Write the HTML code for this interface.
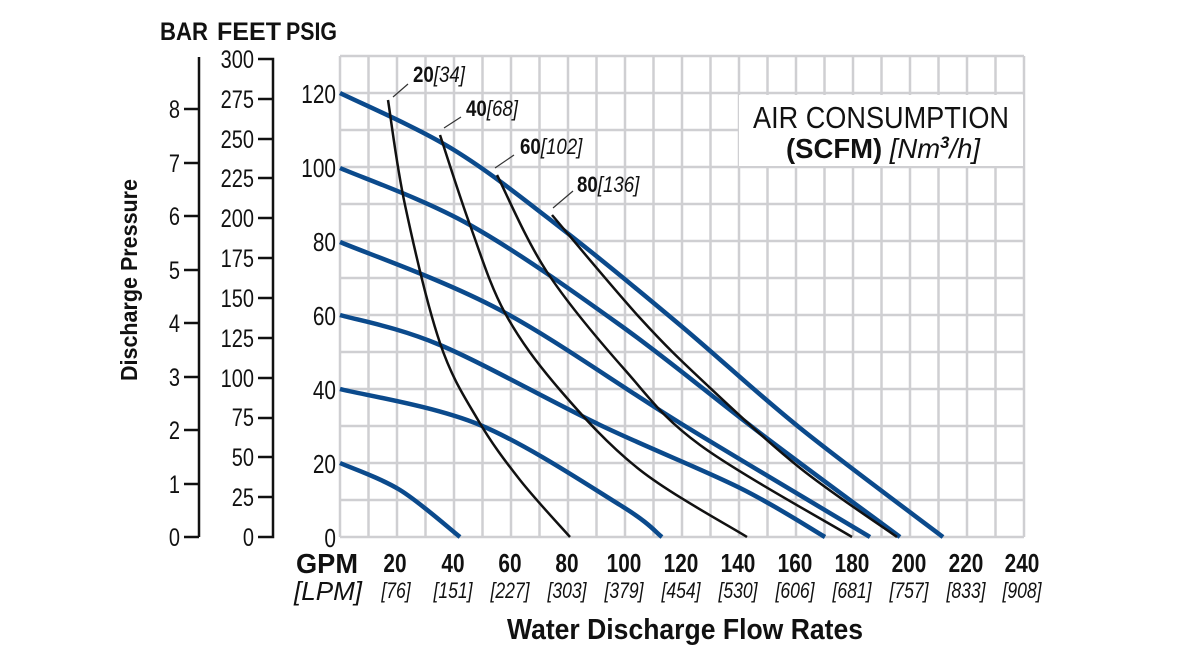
<!DOCTYPE html>
<html><head><meta charset="utf-8"><style>
html,body{margin:0;padding:0;background:#fff;}
svg{display:block;}
text{font-family:"Liberation Sans",sans-serif;fill:#111;}
</style></head><body>
<svg id="s" width="1200" height="660" viewBox="0 0 1200 660" xmlns="http://www.w3.org/2000/svg">
<g stroke="#cfcfd2" stroke-width="2.5">
<line x1="340" y1="56" x2="340" y2="537"/><line x1="368.5" y1="56" x2="368.5" y2="537"/><line x1="397" y1="56" x2="397" y2="537"/><line x1="425.5" y1="56" x2="425.5" y2="537"/><line x1="454" y1="56" x2="454" y2="537"/><line x1="482.5" y1="56" x2="482.5" y2="537"/><line x1="511" y1="56" x2="511" y2="537"/><line x1="539.5" y1="56" x2="539.5" y2="537"/><line x1="568" y1="56" x2="568" y2="537"/><line x1="596.5" y1="56" x2="596.5" y2="537"/><line x1="625" y1="56" x2="625" y2="537"/><line x1="653.5" y1="56" x2="653.5" y2="537"/><line x1="682" y1="56" x2="682" y2="537"/><line x1="710.5" y1="56" x2="710.5" y2="537"/><line x1="739" y1="56" x2="739" y2="537"/><line x1="767.5" y1="56" x2="767.5" y2="537"/><line x1="796" y1="56" x2="796" y2="537"/><line x1="824.5" y1="56" x2="824.5" y2="537"/><line x1="853" y1="56" x2="853" y2="537"/><line x1="881.5" y1="56" x2="881.5" y2="537"/><line x1="910" y1="56" x2="910" y2="537"/><line x1="938.5" y1="56" x2="938.5" y2="537"/><line x1="967" y1="56" x2="967" y2="537"/><line x1="995.5" y1="56" x2="995.5" y2="537"/><line x1="1024" y1="56" x2="1024" y2="537"/>
<line x1="340" y1="56" x2="1024" y2="56"/><line x1="340" y1="93" x2="1024" y2="93"/><line x1="340" y1="130" x2="1024" y2="130"/><line x1="340" y1="167" x2="1024" y2="167"/><line x1="340" y1="204" x2="1024" y2="204"/><line x1="340" y1="241" x2="1024" y2="241"/><line x1="340" y1="278" x2="1024" y2="278"/><line x1="340" y1="315" x2="1024" y2="315"/><line x1="340" y1="352" x2="1024" y2="352"/><line x1="340" y1="389" x2="1024" y2="389"/><line x1="340" y1="426" x2="1024" y2="426"/><line x1="340" y1="463" x2="1024" y2="463"/><line x1="340" y1="500" x2="1024" y2="500"/><line x1="340" y1="537" x2="1024" y2="537"/>
</g>
<rect x="739" y="95" width="284" height="71" fill="#fff"/>
<g id="blue" fill="none" stroke="#0b4a8c" stroke-width="4.5" stroke-linejoin="round">
<polyline data-p="340,93 454,150 566,232 680,325 800,428 943,537"/>
<polyline data-p="340,168 470,225 620,325 760,433 900,537"/>
<polyline data-p="340,242 500,310 680,423 870,537"/>
<polyline data-p="340,315 440,345 600,425 740,488 825,537"/>
<polyline data-p="340,389 480,425 620,505 662,537"/>
<polyline data-p="340,463 400,490 460,537"/>
</g>
<g id="black" fill="none" stroke="#111" stroke-width="2.5" stroke-linejoin="round">
<polyline data-p="388,100 405,205 440,343 478,420 520,480 570,537"/>
<polyline data-p="440,135 470,225 505,313 560,390 640,470 747,537"/>
<polyline data-p="497,175 547,272 625,370 700,445 852,537"/>
<polyline data-p="552,215 640,318 707,385 800,468 897,537"/>
</g>
<g stroke="#333" stroke-width="1.2">
<line x1="408" y1="84" x2="393" y2="97"/>
<line x1="461" y1="117" x2="444" y2="128"/>
<line x1="514" y1="155" x2="495" y2="168"/>
<line x1="573" y1="191" x2="553" y2="208"/>
</g>
<g font-size="22">
<text transform="translate(413,82) scale(0.85,1)"><tspan font-weight="bold">20</tspan><tspan font-style="italic">[34]</tspan></text>
<text transform="translate(466,116) scale(0.85,1)"><tspan font-weight="bold">40</tspan><tspan font-style="italic">[68]</tspan></text>
<text transform="translate(520,154) scale(0.85,1)"><tspan font-weight="bold">60</tspan><tspan font-style="italic">[102]</tspan></text>
<text transform="translate(577,192) scale(0.85,1)"><tspan font-weight="bold">80</tspan><tspan font-style="italic">[136]</tspan></text>
</g>
<text x="881" y="128" font-size="31" text-anchor="middle" textLength="256" lengthAdjust="spacingAndGlyphs">AIR CONSUMPTION</text>
<text x="786" y="158" font-size="28" textLength="194" lengthAdjust="spacingAndGlyphs"><tspan font-weight="bold">(SCFM)</tspan><tspan font-style="italic"> [Nm</tspan><tspan font-style="italic" font-weight="bold" font-size="17" dy="-10">3</tspan><tspan font-style="italic" dy="10">/h]</tspan></text>
<g font-size="26" text-anchor="end">
<text transform="translate(336,547) scale(0.8,1)">0</text><text transform="translate(336,473) scale(0.8,1)">20</text><text transform="translate(336,399) scale(0.8,1)">40</text><text transform="translate(336,325) scale(0.8,1)">60</text><text transform="translate(336,251) scale(0.8,1)">80</text><text transform="translate(336,177) scale(0.8,1)">100</text><text transform="translate(336,103) scale(0.8,1)">120</text>
</g>
<g stroke="#111" stroke-width="2.5" fill="none">
<polyline points="258,59 273,59 273,537 258,537"/>
<line x1="258" y1="99" x2="273" y2="99"/><line x1="258" y1="139" x2="273" y2="139"/><line x1="258" y1="178" x2="273" y2="178"/><line x1="258" y1="218" x2="273" y2="218"/><line x1="258" y1="258" x2="273" y2="258"/><line x1="258" y1="298" x2="273" y2="298"/><line x1="258" y1="338" x2="273" y2="338"/><line x1="258" y1="378" x2="273" y2="378"/><line x1="258" y1="418" x2="273" y2="418"/><line x1="258" y1="457" x2="273" y2="457"/><line x1="258" y1="497" x2="273" y2="497"/>
<line x1="199" y1="57" x2="199" y2="537"/>
<line x1="184" y1="537" x2="199" y2="537"/><line x1="184" y1="484" x2="199" y2="484"/><line x1="184" y1="430" x2="199" y2="430"/><line x1="184" y1="377" x2="199" y2="377"/><line x1="184" y1="323" x2="199" y2="323"/><line x1="184" y1="270" x2="199" y2="270"/><line x1="184" y1="216" x2="199" y2="216"/><line x1="184" y1="163" x2="199" y2="163"/><line x1="184" y1="109" x2="199" y2="109"/>
</g>
<g font-size="25" text-anchor="end">
<text transform="translate(254,546) scale(0.8,1)">0</text><text transform="translate(254,506) scale(0.8,1)">25</text><text transform="translate(254,466) scale(0.8,1)">50</text><text transform="translate(254,426) scale(0.8,1)">75</text><text transform="translate(254,387) scale(0.8,1)">100</text><text transform="translate(254,347) scale(0.8,1)">125</text><text transform="translate(254,307) scale(0.8,1)">150</text><text transform="translate(254,267) scale(0.8,1)">175</text><text transform="translate(254,227) scale(0.8,1)">200</text><text transform="translate(254,187) scale(0.8,1)">225</text><text transform="translate(254,148) scale(0.8,1)">250</text><text transform="translate(254,108) scale(0.8,1)">275</text><text transform="translate(254,68) scale(0.8,1)">300</text>
<text transform="translate(180,546) scale(0.8,1)">0</text><text transform="translate(180,493) scale(0.8,1)">1</text><text transform="translate(180,439) scale(0.8,1)">2</text><text transform="translate(180,386) scale(0.8,1)">3</text><text transform="translate(180,332) scale(0.8,1)">4</text><text transform="translate(180,279) scale(0.8,1)">5</text><text transform="translate(180,225) scale(0.8,1)">6</text><text transform="translate(180,172) scale(0.8,1)">7</text><text transform="translate(180,118) scale(0.8,1)">8</text>
</g>
<g font-size="25" font-weight="bold">
<text x="160" y="40" textLength="48" lengthAdjust="spacingAndGlyphs">BAR</text>
<text x="217" y="40" textLength="64" lengthAdjust="spacingAndGlyphs">FEET</text>
<text x="286" y="40" textLength="51" lengthAdjust="spacingAndGlyphs">PSIG</text>
</g>
<text transform="translate(137,280) rotate(-90)" font-size="23" font-weight="bold" text-anchor="middle" textLength="202" lengthAdjust="spacingAndGlyphs">Discharge Pressure</text>
<text x="327" y="573" font-size="28" font-weight="bold" text-anchor="middle" textLength="62" lengthAdjust="spacingAndGlyphs">GPM</text>
<text x="328" y="600" font-size="26" font-style="italic" text-anchor="middle" textLength="68" lengthAdjust="spacingAndGlyphs">[LPM]</text>
<g font-size="26" font-weight="bold" text-anchor="middle">
<text transform="translate(395,572) scale(0.8,1)">20</text><text transform="translate(453,572) scale(0.8,1)">40</text><text transform="translate(510,572) scale(0.8,1)">60</text><text transform="translate(567,572) scale(0.8,1)">80</text><text transform="translate(624,572) scale(0.8,1)">100</text><text transform="translate(681,572) scale(0.8,1)">120</text><text transform="translate(738,572) scale(0.8,1)">140</text><text transform="translate(795,572) scale(0.8,1)">160</text><text transform="translate(852,572) scale(0.8,1)">180</text><text transform="translate(909,572) scale(0.8,1)">200</text><text transform="translate(966,572) scale(0.8,1)">220</text><text transform="translate(1022,572) scale(0.8,1)">240</text>
</g>
<g font-size="22" font-style="italic" text-anchor="middle">
<text transform="translate(396,598) scale(0.8,1)">[76]</text><text transform="translate(453,598) scale(0.8,1)">[151]</text><text transform="translate(510,598) scale(0.8,1)">[227]</text><text transform="translate(567,598) scale(0.8,1)">[303]</text><text transform="translate(624,598) scale(0.8,1)">[379]</text><text transform="translate(681,598) scale(0.8,1)">[454]</text><text transform="translate(738,598) scale(0.8,1)">[530]</text><text transform="translate(795,598) scale(0.8,1)">[606]</text><text transform="translate(852,598) scale(0.8,1)">[681]</text><text transform="translate(909,598) scale(0.8,1)">[757]</text><text transform="translate(966,598) scale(0.8,1)">[833]</text><text transform="translate(1022,598) scale(0.8,1)">[908]</text>
</g>
<text x="685" y="639" font-size="29" font-weight="bold" text-anchor="middle" textLength="356" lengthAdjust="spacingAndGlyphs">Water Discharge Flow Rates</text>
</svg>
<script>
(function(){
var NS="http://www.w3.org/2000/svg";
document.querySelectorAll("polyline[data-p]").forEach(function(pl){
  var pts=pl.getAttribute("data-p").trim().split(/\s+/).map(function(s){return s.split(",").map(Number);});
  var d="M"+pts[0][0]+","+pts[0][1];
  for(var i=0;i<pts.length-1;i++){
    var p0=pts[i-1]||pts[i],p1=pts[i],p2=pts[i+1],p3=pts[i+2]||p2;
    var c1=[p1[0]+(p2[0]-p0[0])/6,p1[1]+(p2[1]-p0[1])/6];
    var c2=[p2[0]-(p3[0]-p1[0])/6,p2[1]-(p3[1]-p1[1])/6];
    d+=" C"+c1.join(",")+" "+c2.join(",")+" "+p2.join(",");
  }
  var path=document.createElementNS(NS,"path");
  path.setAttribute("d",d);
  pl.parentNode.replaceChild(path,pl);
});
})();
</script>
<script>
document.querySelectorAll("polyline[data-p]").forEach(function(p){p.setAttribute("points",p.getAttribute("data-p"));});
</script>
</body></html>
